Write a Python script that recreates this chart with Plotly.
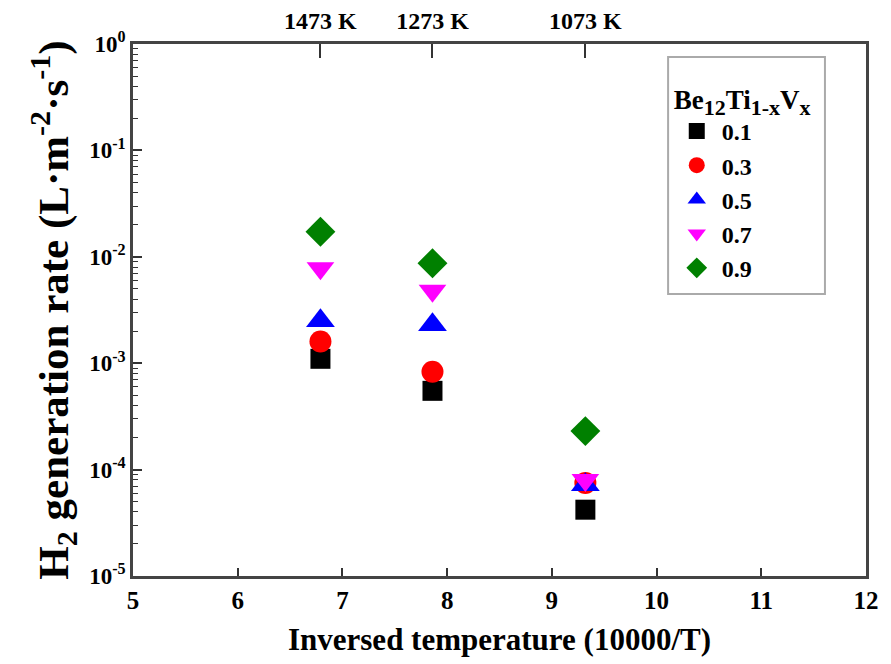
import plotly.graph_objects as go

# Data
inv_temp = [6.79, 7.86, 9.32]
temp_labels = ["1473 K", "1273 K", "1073 K"]
series_names = ["0.1", "0.3", "0.5", "0.7", "0.9"]
rate_01 = [0.0011, 0.00055, 4.2e-5]
rate_03 = [0.0016, 0.00083, 7.5e-5]
rate_05 = [0.0025, 0.0023, 7.2e-5]
rate_07 = [0.0078, 0.0048, 8.0e-5]
rate_09 = [0.0172, 0.0087, 2.3e-4]
y_tickvals = [1e-5, 1e-4, 1e-3, 1e-2, 1e-1, 1]
y_ticktext = ["10<sup>-5</sup>", "10<sup>-4</sup>", "10<sup>-3</sup>", "10<sup>-2</sup>", "10<sup>-1</sup>", "10<sup>0</sup>"]
x_tickvals = [5, 6, 7, 8, 9, 10, 11, 12]

series = [rate_01, rate_03, rate_05, rate_07, rate_09]
symbols = ["square", "circle", "triangle-up", "triangle-down", "diamond"]
colors = ["#000000", "#ff0000", "#0000ff", "#ff00ff", "#008000"]
sizes = [20, 22, 25, 24, 23]

FONT = "Liberation Serif"

fig = go.Figure()
for name, vals, sym, col, sz in zip(series_names, series, symbols, colors, sizes):
    fig.add_trace(go.Scatter(
        x=inv_temp, y=vals, mode="markers", name=f"<b>{name}</b>",
        marker=dict(symbol=sym, color=col, size=sz, line=dict(width=0)),
    ))

# invisible trace for top axis
fig.add_trace(go.Scatter(x=inv_temp, y=[None]*3, xaxis="x2", showlegend=False,
                         hoverinfo="skip"))

minor_vals = []
for e in range(-5, 0):
    for m in range(2, 10):
        minor_vals.append(m * 10 ** e)

sub = "<sub><span style='font-size:22px'>{}</span></sub>"
legend_title = ("<b>Be" + sub.format("12") + "Ti" + sub.format("1-x")
                + "V" + sub.format("x") + "</b>")

# page body adds an 8px offset; margins compensate
fig.update_layout(
    width=891, height=664,
    paper_bgcolor="white", plot_bgcolor="white",
    margin=dict(l=125, r=33, t=36, b=96, autoexpand=False),
    font=dict(family=FONT, color="black"),
    showlegend=True,
    legend=dict(
        x=0.735, y=0.944, xanchor="left", yanchor="top",
        borderwidth=0, bgcolor="rgba(0,0,0,0)",
        font=dict(family=FONT, size=24, color="black"),
        title=dict(text=legend_title, font=dict(family=FONT, size=27)),
        itemsizing="trace", tracegroupgap=0, itemwidth=40,
    ),
    shapes=[dict(type="rect", xref="paper", yref="paper",
                 x0=0.730, x1=0.944, y0=0.530, y1=0.9756,
                 line=dict(color="#aaaaaa", width=2), fillcolor="rgba(0,0,0,0)",
                 layer="below")],
    xaxis=dict(
        range=[5, 12], tickvals=x_tickvals,
        ticktext=[f"<b>{v}</b>" for v in x_tickvals],
        ticks="inside", ticklen=8, tickwidth=1.5, tickcolor="#333333",
        showline=True, linecolor="#444444", linewidth=2.5, mirror=False,
        showgrid=False, zeroline=False,
        tickfont=dict(family=FONT, size=25, color="black"),
        title=dict(text="<b>Inversed temperature (10000/T)</b>",
                   font=dict(family=FONT, size=31, color="black"), standoff=16),
    ),
    xaxis2=dict(
        range=[5, 12], overlaying="x", side="top", automargin=False,
        tickvals=inv_temp, ticktext=[f"<b>{t}</b>" for t in temp_labels],
        ticks="inside", ticklen=14, tickwidth=1.5, tickcolor="#333333",
        showline=True, linecolor="#444444", linewidth=2.5,
        showgrid=False, zeroline=False, ticklabelstandoff=3,
        tickfont=dict(family=FONT, size=24, color="black"),
    ),
    yaxis=dict(
        type="log", range=[-5, 0],
        tickmode="array", tickvals=y_tickvals,
        ticktext=[f"<b>{t}</b>" for t in y_ticktext],
        ticks="inside", ticklen=9, tickwidth=1.5, tickcolor="#333333",
        minor=dict(tickmode="array", tickvals=minor_vals, ticks="inside",
                   ticklen=5, tickwidth=1, tickcolor="#333333", showgrid=False),
        showline=True, linecolor="#444444", linewidth=2.5, mirror=True,
        showgrid=False, zeroline=False,
        tickfont=dict(family=FONT, size=23, color="black"),
        title=dict(text="<b>H<sub>2</sub> generation rate (L·m<sup>-2</sup>·s<sup>-1</sup>)</b>",
                   font=dict(family=FONT, size=43, color="black"), standoff=8),
    ),
)

fig.write_html("out.html")
